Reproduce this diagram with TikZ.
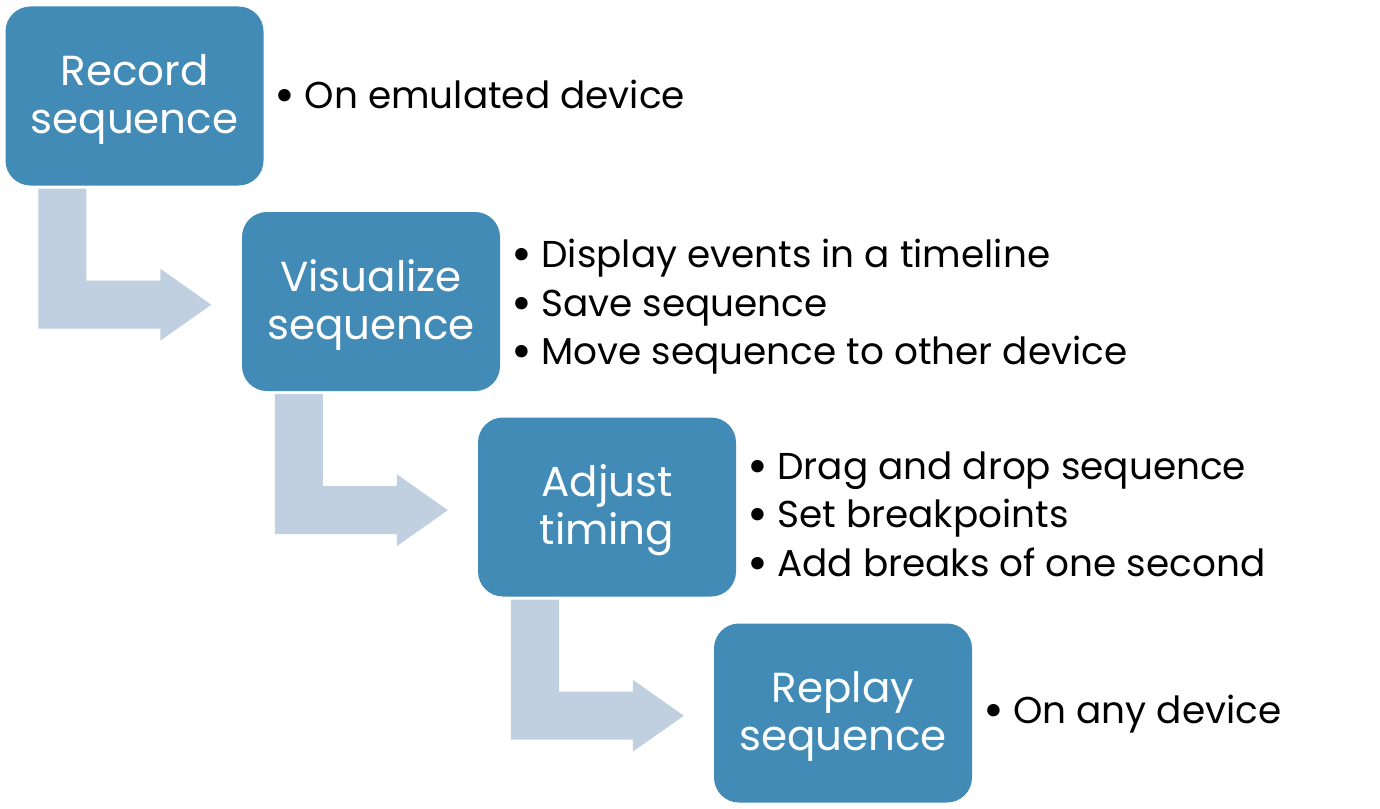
\documentclass[tikz,border=0pt]{standalone}
\usepackage{fontspec}
\usepackage{graphicx}
\setmainfont{Poppins}
\usetikzlibrary{calc}
\definecolor{boxblue}{RGB}{66,139,182}
\definecolor{arrowblue}{RGB}{192,208,224}
\tikzset{
  stepbox/.style={fill=boxblue, draw=none, rounded corners=25pt,
    minimum width=258pt, minimum height=179pt, inner sep=0pt,
    text=white, align=center, font=\fontsize{42}{48}\selectfont},
  bullets/.style={anchor=west, inner sep=0pt, align=left,
    font=\fontsize{37.4}{48.5}\selectfont, text=black},
  bentarrow/.style={fill=arrowblue, draw=none}
}
\newcommand\bul{\makebox[26pt][l]{\hspace{-4pt}\raisebox{-0.1em}{\scalebox{1.35}{\textbullet}}}}
\newcommand\bendarrow[1]{%
  \path[bentarrow] ($(#1.south west)+(33,3)$) -- ($(#1.south west)+(81,3)$)
    -- ($(#1.south west)+(81,95)$) -- ($(#1.south west)+(155,95)$)
    -- ($(#1.south west)+(155,83)$) -- ($(#1.south west)+(206,119)$)
    -- ($(#1.south west)+(155,155)$) -- ($(#1.south west)+(155,143)$)
    -- ($(#1.south west)+(33,143)$) -- cycle;}
\begin{document}
\begin{tikzpicture}[x=1pt,y=-1pt]
  \fill[white] (0,0) rectangle (1380,808);
  \useasboundingbox (0,0) rectangle (1380,808);
  % boxes
  \node[stepbox] (b1) at (134.5,96)  {\rule{0pt}{38pt}Record\\sequence};
  \node[stepbox] (b2) at (371,301.5) {\rule{0pt}{38pt}Visualize\\sequence};
  \node[stepbox] (b3) at (607,507)   {\rule{0pt}{38pt}Adjust\\timing};
  \node[stepbox] (b4) at (843,713)   {\rule{0pt}{38pt}Replay\\sequence};
  % bent arrows
  \bendarrow{b1}
  \bendarrow{b2}
  \bendarrow{b3}
  % bullet lists
  \node[bullets] (t1) at ($(b1.east)+(15,0)$) {\bul On emulated device};
  \node[bullets] (t2) at ($(b2.east)+(15,5.5)$) {\bul Display events in a timeline\\\bul Save sequence\\\bul Move sequence to other device};
  \node[bullets] (t3) at ($(b3.east)+(15,9)$) {\bul Drag and drop sequence\\\bul Set breakpoints\\\bul Add breaks of one second};
  \node[bullets] (t4) at ($(b4.east)+(15,1.5)$) {\bul On any device};
\end{tikzpicture}
\end{document}
